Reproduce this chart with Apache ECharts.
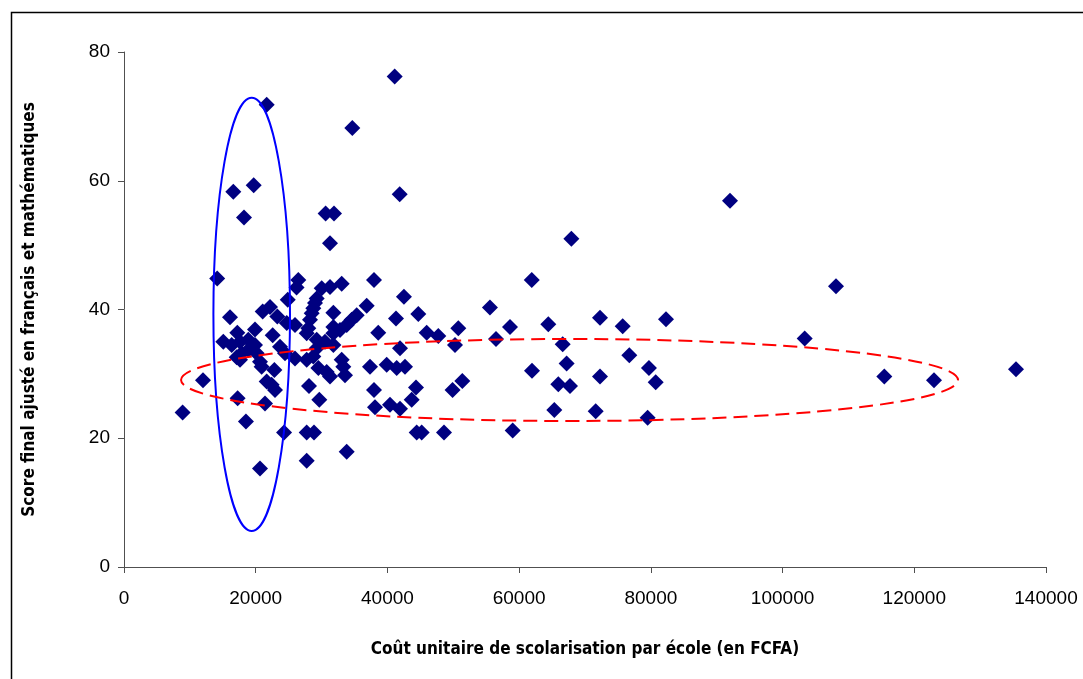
<!DOCTYPE html>
<html>
<head>
<meta charset="utf-8">
<script src="https://cdn.jsdelivr.net/npm/echarts@6/dist/echarts.min.js"></script>
<style>
  html, body { margin: 0; padding: 0; background: #fff; }
  #chart { width: 1083px; height: 679px; }
</style>
</head>
<body>
<div id="chart"></div>
<script>
// coût unitaire (FCFA) et score par école
const schoolCost = [
  8900, 12000, 14150, 15080, 16100, 16350, 16600, 17110, 17210, 17250,
  17610, 17610, 17870, 18220, 18520, 18880, 18880, 19690, 19890, 19890,
  20150, 20650, 20650, 20900, 21060, 21410, 21670, 21670, 22170, 22420,
  22580, 22830, 22930, 23280, 23690, 24300, 24450, 24710, 24860, 25970,
  25970, 26470, 26200, 27740, 27740, 27740, 27740, 27990, 28090, 28240,
  28500, 28750, 28750, 28850, 29000, 29260, 29260, 29260, 29510, 29660,
  30020, 30520, 30620, 30780, 31280, 31280, 31280, 31790, 31790, 31790,
  31790, 31890, 32800, 33050, 33050, 33300, 33560, 33810, 33810, 34570,
  34670, 35330, 36850, 37350, 37960, 37960, 38110, 38610, 39890, 40390,
  41100, 41300, 41410, 41860, 41910, 41910, 42510, 42670, 43680, 44340,
  44440, 44690, 45200, 45960, 47730, 48590, 49890, 50260, 50760, 51370,
  55570, 56490, 58610, 59020, 61910, 61950, 64430, 65340, 65950, 66610,
  67210, 67720, 67930, 71620, 72280, 72280, 75720, 76730, 79510, 79710,
  80730, 82300, 92020, 103360, 108110, 115450, 122990, 135440
];
const schoolScore = [
  24.0, 29.0, 44.8, 35.0, 38.8, 34.5, 58.3, 32.6, 36.4, 26.2,
  35.0, 32.2, 33.2, 54.3, 22.6, 35.3, 33.7, 59.3, 36.9, 34.5,
  33.2, 31.9, 15.3, 31.1, 39.7, 25.4, 71.8, 28.8, 40.4, 28.3,
  36.0, 30.6, 27.5, 38.9, 34.2, 20.9, 33.2, 37.9, 41.5, 37.6,
  32.4, 44.6, 43.4, 36.3, 32.2, 20.9, 16.5, 37.1, 28.1, 38.4,
  39.4, 40.2, 32.7, 20.9, 41.0, 41.7, 34.0, 35.3, 30.9, 26.0,
  43.3, 35.0, 54.9, 30.3, 43.5, 50.3, 29.6, 39.5, 37.3, 34.5,
  36.3, 54.9, 36.8, 44.0, 32.2, 31.1, 29.8, 37.6, 17.9, 38.4,
  68.2, 39.1, 40.6, 31.1, 44.6, 27.5, 24.8, 36.4, 31.4, 25.2,
  76.2, 38.6, 30.9, 57.9, 34.0, 24.6, 42.0, 31.1, 26.0, 27.9,
  20.9, 39.3, 20.9, 36.4, 35.9, 20.9, 27.5, 34.5, 37.1, 28.9,
  40.3, 35.4, 37.3, 21.2, 44.6, 30.5, 37.7, 24.4, 28.4, 34.6,
  31.6, 28.1, 51.0, 24.2, 38.7, 29.6, 37.4, 32.9, 23.2, 30.9,
  28.7, 38.5, 56.9, 35.5, 43.6, 29.6, 29.0, 30.7
];

// bornes des axes
const xAxisMax = 140000;
const xAxisStep = 20000;
const yAxisMax = 80;
const yAxisStep = 20;

// ellipses d'annotation : centre et demi-axes en unités des données
const blueZone = { cx: 19390, cy: 39.25, rx: 5815, ry: 33.66 };
const redZone = { cx: 67650, cy: 29.05, rx: 58990, ry: 6.37 };

(function() {
  class CostScoreChart {
    constructor(selector) {
      this.container = document.querySelector(selector);
      if (!this.container) {
        console.error(`conteneur "${selector}" introuvable`);
        return;
      }
      this.chart = echarts.init(this.container);
      this.initChart();
      this.bindEvents();
    }

    get baseOption() {
      const axisFont = "'Liberation Sans', Arial, sans-serif";
      const nameFont = "'Liberation Sans Narrow', 'Arial Narrow', 'DejaVu Sans Condensed', sans-serif";
      return {
        animation: false,
        backgroundColor: '#fff',
        grid: { left: 124, top: 52, width: 922, height: 515 },
        xAxis: {
          type: 'value',
          min: 0,
          max: xAxisMax,
          interval: xAxisStep,
          name: 'Coût unitaire de scolarisation par école (en FCFA)',
          nameLocation: 'middle',
          nameGap: 74,
          nameTextStyle: { fontFamily: nameFont, fontWeight: 'bold', fontSize: 17, color: '#000' },
          axisLine: { lineStyle: { color: '#505050', width: 1 } },
          axisTick: { show: true, length: 6, lineStyle: { color: '#505050' } },
          axisLabel: {
            fontFamily: axisFont, fontSize: 19, color: '#000', margin: 22,
            formatter: (v) => String(v)
          },
          splitLine: { show: false }
        },
        yAxis: {
          type: 'value',
          min: 0,
          max: yAxisMax,
          interval: yAxisStep,
          name: 'Score final ajusté en français et mathématiques',
          nameLocation: 'middle',
          nameGap: 86,
          nameTextStyle: { fontFamily: nameFont, fontWeight: 'bold', fontSize: 17, color: '#000' },
          axisLine: { show: true, lineStyle: { color: '#505050', width: 1 } },
          axisTick: { show: true, length: 6, lineStyle: { color: '#505050' } },
          axisLabel: { fontFamily: axisFont, fontSize: 19, color: '#000', margin: 14 },
          splitLine: { show: false }
        },
        series: [
          {
            type: 'scatter',
            symbol: 'diamond',
            symbolSize: 16,
            itemStyle: { color: '#000080', opacity: 1 },
            data: schoolCost.map((c, i) => [c, schoolScore[i]])
          }
        ]
      };
    }

    ellipseShape(zone) {
      const c = this.chart.convertToPixel({ gridIndex: 0 }, [zone.cx, zone.cy]);
      const e = this.chart.convertToPixel({ gridIndex: 0 }, [zone.cx + zone.rx, zone.cy + zone.ry]);
      return { cx: c[0], cy: c[1], rx: Math.abs(e[0] - c[0]), ry: Math.abs(c[1] - e[1]) };
    }

    drawOverlay() {
      this.chart.setOption({
        graphic: [
          {
            id: 'frame',
            type: 'rect',
            silent: true,
            shape: { x: 11.5, y: 12.5, width: 1200, height: 800 },
            style: { fill: 'none', stroke: '#000', lineWidth: 1.5 }
          },
          {
            id: 'blue',
            type: 'ellipse',
            silent: true,
            z: 10,
            shape: this.ellipseShape(blueZone),
            style: { fill: 'none', stroke: '#0000ff', lineWidth: 2 }
          },
          {
            id: 'red',
            type: 'ellipse',
            silent: true,
            z: 10,
            shape: this.ellipseShape(redZone),
            style: { fill: 'none', stroke: '#ff0000', lineWidth: 2, lineDash: [14, 7] }
          }
        ]
      });
    }

    initChart() {
      this.chart.setOption(this.baseOption);
      this.drawOverlay();
    }

    bindEvents() {
      window.addEventListener('resize', () => {
        this.chart.resize();
        this.drawOverlay();
      });
    }
  }

  document.addEventListener('DOMContentLoaded', () => {
    new CostScoreChart('#chart');
  });
})();
</script>
</body>
</html>
